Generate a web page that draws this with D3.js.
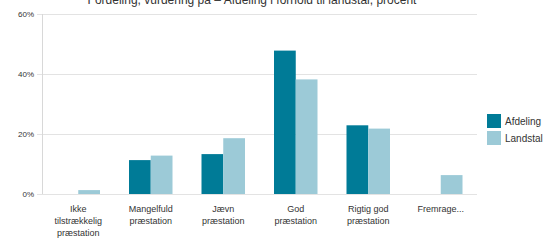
<!DOCTYPE html>
<html>
<head>
<meta charset="utf-8">
<script src="https://cdn.jsdelivr.net/npm/d3@7"></script>
<style>
  body { margin: 0; background: #fff; }
  svg { display: block; font-family: "Liberation Sans", Arial, sans-serif; }
</style>
</head>
<body>
<svg id="chart" width="554" height="241"></svg>
<script>
// chart data
var categories = [
  ["Ikke", "tilstrækkelig", "præstation"],
  ["Mangelfuld", "præstation"],
  ["Jævn", "præstation"],
  ["God", "præstation"],
  ["Rigtig god", "præstation"],
  ["Fremrage..."]
];
var seriesNames = ["Afdeling", "Landstal"];
var afdeling = [0, 11.3, 13.3, 47.8, 22.9, 0];
var landstal = [1.3, 12.8, 18.6, 38.2, 21.8, 6.3];
var yTicks = [0, 20, 40, 60];
var colors = ["#007b97", "#9ccad7"];
var title = "Fordeling, vurdering på – Afdeling i forhold til landstal, procent";

const svg = d3.select("#chart"),
    margin = {top: 14, right: 77, bottom: 47, left: 42},
    width = +svg.attr("width"),
    height = +svg.attr("height");

// Scales
const x = d3.scaleBand()
    .domain(d3.range(categories.length))
    .range([margin.left, width - margin.right])
    .paddingInner(0.4)
    .paddingOuter(0.2);

const xs = d3.scaleBand()
    .domain(seriesNames)
    .range([0, x.bandwidth()]);

const y = d3.scaleLinear()
    .domain([0, 60])
    .range([height - margin.bottom, margin.top]);

// title (cut at the top edge, as in the original)
svg.append("text")
    .attr("x", 252)
    .attr("y", 4)
    .attr("text-anchor", "middle")
    .style("font-size", "12px")
    .attr("fill", "#333")
    .text(title);

// gridlines
svg.append("g")
    .selectAll("line")
    .data(yTicks)
    .join("line")
    .attr("x1", margin.left - 5)
    .attr("x2", width - margin.right)
    .attr("y1", d => Math.round(y(d)) + 0.5)
    .attr("y2", d => Math.round(y(d)) + 0.5)
    .attr("stroke", "#e3e3e3")
    .attr("stroke-width", 1);

// y axis line
svg.append("line")
    .attr("x1", margin.left + 0.5)
    .attr("x2", margin.left + 0.5)
    .attr("y1", y(60))
    .attr("y2", y(0))
    .attr("stroke", "#d8d8d8");

// y tick labels
svg.append("g")
    .selectAll("text")
    .data(yTicks)
    .join("text")
    .attr("x", margin.left - 8)
    .attr("y", d => y(d) + 3)
    .attr("text-anchor", "end")
    .style("font-size", "8px")
    .attr("fill", "#333")
    .text(d => d + "%");

// bars
var series = [afdeling, landstal];
series.forEach(function (vals, si) {
    svg.append("g")
        .selectAll("rect")
        .data(vals)
        .join("rect")
        .attr("x", (d, i) => x(i) + xs(seriesNames[si]))
        .attr("width", xs.bandwidth())
        .attr("y", d => y(d))
        .attr("height", d => y(0) - y(d))
        .attr("fill", colors[si]);
});

// x labels
const xl = svg.append("g")
    .selectAll("text")
    .data(categories)
    .join("text")
    .attr("x", (d, i) => x(i) + x.bandwidth() / 2)
    .attr("y", 212)
    .attr("text-anchor", "middle")
    .style("font-size", "9px")
    .attr("fill", "#333");

xl.selectAll("tspan")
    .data(d => d)
    .join("tspan")
    .attr("x", function () { return this.parentNode.getAttribute("x"); })
    .attr("dy", (d, i) => i === 0 ? 0 : 12)
    .text(d => d);

// legend
const lg = svg.append("g")
    .selectAll("g")
    .data(seriesNames)
    .join("g")
    .attr("transform", (d, i) => "translate(487," + (114 + i * 17) + ")");

lg.append("rect")
    .attr("width", 14)
    .attr("height", 14)
    .attr("fill", (d, i) => colors[i]);

lg.append("text")
    .attr("x", 18)
    .attr("y", 11)
    .style("font-size", "10px")
    .attr("fill", "#333")
    .text(d => d);
</script>
</body>
</html>
